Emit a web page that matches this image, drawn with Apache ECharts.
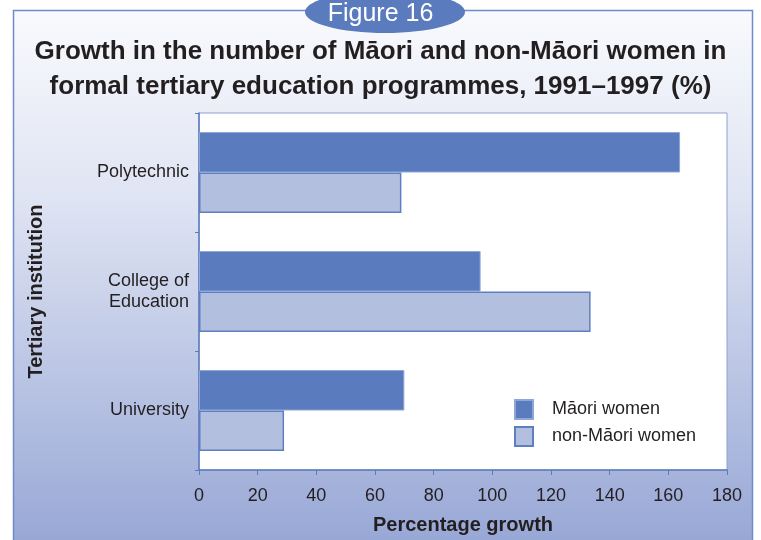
<!DOCTYPE html>
<html>
<head>
<meta charset="utf-8">
<script src="https://cdn.jsdelivr.net/npm/echarts@6/dist/echarts.min.js"></script>
<style>html,body{margin:0;padding:0;background:#fff}#c{width:761px;height:540px}</style>
</head>
<body>
<div id="c"></div>
<script>
var categories = ['University', 'College of\nEducation', 'Polytechnic'];
var maoriWomen = [70, 96, 164];
var nonMaoriWomen = [29, 133.5, 69];
var seriesNames = ['Māori women', 'non-Māori women'];
var xTicks = [0, 20, 40, 60, 80, 100, 120, 140, 160, 180];

var chart = echarts.init(document.getElementById('c'), null, {renderer: 'canvas'});
var font = '"Liberation Sans", Arial, sans-serif';
var txt = '#231f20';
chart.setOption({
  animation: false,
  textStyle: {fontFamily: font},
  graphic: [
    {type: 'rect', z: -10, shape: {x: 13.5, y: 10.5, width: 739, height: 540},
     style: {fill: new echarts.graphic.LinearGradient(0, 0, 0, 1, [
       {offset: 0, color: '#f9fafd'}, {offset: 0.35, color: '#dfe4f3'}, {offset: 1, color: '#96a6d5'}]),
       stroke: '#6f8bcb', lineWidth: 1.5}},
    {type: 'ellipse', z: 10, shape: {cx: 385, cy: 12, rx: 80, ry: 21},
     style: {fill: '#5a7bbd'}},
    {type: 'text', z: 11, left: 'center', top: 2,
     style: {text: 'Figure 16', fill: '#ffffff', font: '25px ' + font, textAlign: 'center'}},
    {type: 'text', z: 11, left: 'center', top: 34,
     style: {text: 'Growth in the number of Māori and non-Māori women in\nformal tertiary education programmes, 1991–1997 (%)',
       fill: txt, font: 'bold 26px ' + font, textAlign: 'center', lineHeight: 35}}
  ],
  legend: {
    data: seriesNames, orient: 'vertical', left: 514, top: 399, padding: 0,
    itemWidth: 18, itemHeight: 19, itemGap: 6,
    textStyle: {fontSize: 18, color: txt, padding: [0, 0, 0, 14], lineHeight: 19},
    icon: 'rect'
  },
  grid: {left: 199, right: 34, top: 113, bottom: 66, show: true,
    backgroundColor: '#ffffff', borderColor: '#8ea1d2', borderWidth: 1},
  xAxis: {
    type: 'value', min: 0, max: 180, interval: 20,
    name: 'Percentage growth', nameLocation: 'middle', nameGap: 45,
    nameTextStyle: {fontSize: 20, fontWeight: 'bold', color: txt},
    axisLine: {show: true, lineStyle: {color: '#5a7bbd', width: 1.5}},
    axisTick: {show: true, length: 5, lineStyle: {color: '#5a7bbd'}},
    axisLabel: {fontSize: 18, color: txt, margin: 17},
    splitLine: {show: false}
  },
  yAxis: {
    type: 'category', data: categories,
    name: 'Tertiary institution', nameLocation: 'middle', nameGap: 153, nameRotate: 90,
    nameTextStyle: {fontSize: 20, fontWeight: 'bold', color: txt},
    axisLine: {show: true, lineStyle: {color: '#5a7bbd', width: 1.5}},
    axisTick: {show: true, length: 4, lineStyle: {color: '#5a7bbd'}},
    axisLabel: {fontSize: 18, color: txt, margin: 10, lineHeight: 21},
    inverse: false
  },
  series: [
    {name: seriesNames[0], type: 'bar', data: maoriWomen, barGap: '0%', barCategoryGap: '32%',
     itemStyle: {color: '#5a7bbd', borderColor: '#8ea6d8', borderWidth: 1}},
    {name: seriesNames[1], type: 'bar', data: nonMaoriWomen,
     itemStyle: {color: '#b3bfdf', borderColor: '#5f7fc2', borderWidth: 1.5}}
  ]
});
</script>
</body>
</html>
